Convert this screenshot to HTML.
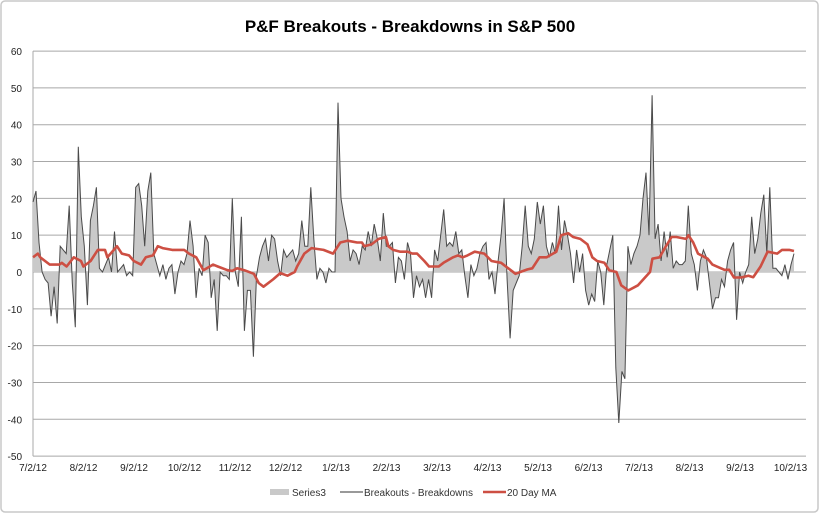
<!DOCTYPE html>
<html><head><meta charset="utf-8"><style>
html,body{margin:0;padding:0;background:#fff;}
body{width:820px;height:514px;overflow:hidden;font-family:"Liberation Sans",sans-serif;}
</style></head><body>
<svg id="chart" width="820" height="514" viewBox="0 0 820 514" xmlns="http://www.w3.org/2000/svg">
<rect x="1" y="1" width="817" height="511" rx="4" fill="#fff" stroke="#c8c8c8" stroke-width="1.5"/>
<text x="410" y="32" text-anchor="middle" font-size="17" font-weight="bold" fill="#000">P&amp;F Breakouts - Breakdowns in S&amp;P 500</text>
<g id="grid"></g><g id="yticks"></g><g id="xticks"></g>
<path id="area" fill="#c9c9c9" stroke="none"/>
<path id="line" fill="none" stroke="#4a4a4a" stroke-width="1"/>
<path id="ma" fill="none" stroke="#cd4f43" stroke-width="2.6" stroke-linejoin="round"/>
<g>
<rect x="270" y="489" width="19" height="6" fill="#c9c9c9"/>
<text x="292" y="496" font-size="10" fill="#333">Series3</text>
<line x1="340" y1="492" x2="363" y2="492" stroke="#333" stroke-width="1"/>
<text x="364" y="496" font-size="10" fill="#333">Breakouts - Breakdowns</text>
<line x1="483" y1="492" x2="506" y2="492" stroke="#cd4f43" stroke-width="2.5"/>
<text x="507" y="496" font-size="10" fill="#333">20 Day MA</text>
</g>
</svg>
<script>
const yTicks=[60,50,40,30,20,10,0,-10,-20,-30,-40,-50];
const xLabels=["7/2/12","8/2/12","9/2/12","10/2/12","11/2/12","12/2/12","1/2/13","2/2/13","3/2/13","4/2/13","5/2/13","6/2/13","7/2/13","8/2/13","9/2/13","10/2/13"];
const values=[19,22,8,0,-2,-3,-12,-4,-14,7,6,5,18,-3,-15,34,15,7,-9,14,18,23,1,0,2,4,0,11,0,1,2,-1,0,-1,23,24,18,7,22,27,5,2,-1,
2,-2,1,2,-6,0,3,2,5,14,7,-7,1,-1,10,8,-7,-2,-16,0,-1,-1,-2,20,0,-4,15,-16,-5,-5,-23,-1,4,7,9,3,10,9,3,-1,6,4,5,
6,3,5,14,7,7,23,9,-2,1,0,-3,1,0,0,46,20,15,11,3,6,5,2,7,6,11,7,13,9,3,16,7,7,8,-3,4,3,-2,8,5,-7,-1,-4,
-2,-7,-2,-7,6,3,10,17,7,8,7,11,5,6,-1,-7,2,-1,1,5,7,8,-2,0,-6,3,10,20,-2,-18,-5,-3,-1,7,18,7,5,9,19,13,18,7,4,
8,5,18,6,14,10,5,-3,6,0,5,-5,-9,-6,-8,3,0,-9,2,6,10,-26,-41,-27,-29,7,2,5,7,10,20,27,10,48,9,13,3,11,4,11,1,3,2,
2,3,18,5,2,-5,3,6,4,-3,-10,-7,-7,-2,-4,3,6,8,-13,0,-3,0,2,15,5,9,16,21,5,23,1,1,0,-1,2,-2,2,5];
const maDays=[0,2,3,7,11,12,14,17,20,21,24,27,30,31,35,37,40,42,45,47,50,52,54,58,63,65,68,71,75,77,81,83,85,88,92,94,96,100,103,106,109,110,113,116,121,125,128,131,135,137,138,141,144,147,148,150,153,156,158,160,163,165,169,171,175,177,179,181,184,188,191,195,198,201,203,206,208,211,214,218,220,223,225,228,231,233,235,238,240,243,245,248,252,257,258,261,263,266,268,272,273,275,277,281,283,288,290,292,295,298,300,303,306,310,312,315,317];
const maValues=[4,5,4,2,2,2.5,1.5,4,3,1.5,3,6,6,4,7,5,4.5,3,2,4,4.5,7,6.5,6,6,5,4,0.5,2,1.5,0.5,0.3,1,0.5,-0.5,-3,-4,-2,-0.3,-1,0,1.5,5,6.5,6,5,8,8.5,8,8,7,7.5,9,9.5,7,6,5.5,5.5,5,5,3,1.5,1.5,2.5,4,4.5,4,4.5,5.5,5,3,2.5,1,-0.5,0,0.7,1,4,4,5.5,10,10.5,9.5,9,7.5,4,3,2.5,0.5,0,-3.6,-5,-3.6,0,3.6,4,6.3,9.5,9.5,9,10,8,5,3.6,2,0.6,0.6,-1.5,-1.5,-1,-1.4,1.4,5.5,5,6,6,5.7];
const DAYS=317, X0=33, X1=794, Y0=272, PX=3.682;
const sx=d=>X0+d*(X1-X0)/DAYS;
const sy=v=>Y0-v*PX;
const NS="http://www.w3.org/2000/svg";
const grid=document.getElementById('grid'), yt=document.getElementById('yticks'), xt=document.getElementById('xticks');
yTicks.forEach(t=>{
  const l=document.createElementNS(NS,'line');
  l.setAttribute('x1',33);l.setAttribute('x2',806);l.setAttribute('y1',sy(t));l.setAttribute('y2',sy(t));
  l.setAttribute('stroke','#a8a8a8');l.setAttribute('stroke-width','1');
  
  
  grid.appendChild(l);
  const tx=document.createElementNS(NS,'text');
  tx.setAttribute('x',22);tx.setAttribute('y',sy(t)+4);tx.setAttribute('text-anchor','end');
  tx.setAttribute('font-size','10');tx.setAttribute('fill','#222');tx.textContent=t;
  
  
  yt.appendChild(tx);
});
const ax=document.createElementNS(NS,'line');
ax.setAttribute('x1',33);ax.setAttribute('x2',33);ax.setAttribute('y1',sy(60));ax.setAttribute('y2',sy(-50));
ax.setAttribute('stroke','#a8a8a8');


grid.appendChild(ax);
xLabels.forEach((s,i)=>{
  const tx=document.createElementNS(NS,'text');
  tx.setAttribute('x',33+i*50.5);tx.setAttribute('y',471);tx.setAttribute('text-anchor','middle');
  tx.setAttribute('font-size','10');tx.setAttribute('fill','#222');tx.textContent=s;
  
  
  xt.appendChild(tx);
});
const n=values.length;
const dx=i=>sx(i*DAYS/(n-1));
let p=values.map((v,i)=>(i?'L':'M')+dx(i).toFixed(1)+','+sy(v).toFixed(1)).join('');
document.getElementById('line').setAttribute('d',p);
document.getElementById('area').setAttribute('d','M'+dx(0)+','+sy(0)+p.replace(/^M/,'L')+'L'+dx(n-1)+','+sy(0)+'Z');
document.getElementById('ma').setAttribute('d',maDays.map((d,i)=>(i?'L':'M')+sx(d).toFixed(1)+','+sy(maValues[i]).toFixed(1)).join(''));
</script>
</body></html>
